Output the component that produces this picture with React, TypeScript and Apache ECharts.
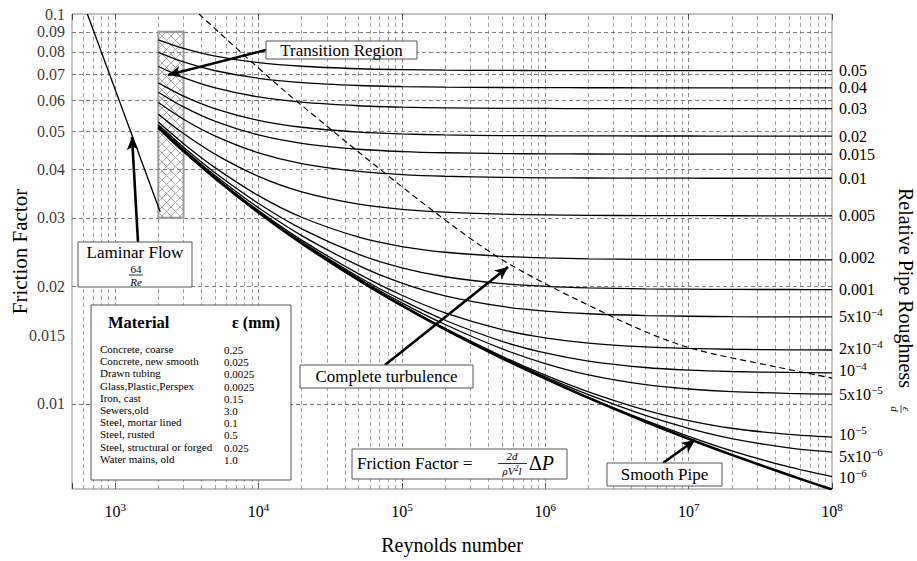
import { useEffect, useRef } from "react";
import * as echarts from "echarts";

const SERIF = '"Liberation Serif", "Times New Roman", serif';

// Reynolds numbers at which the friction curves are read
const reynolds = [2000, 3000, 5000, 1e4, 2e4, 5e4, 1e5, 2e5, 5e5, 1e6, 2e6, 5e6, 1e7, 2e7, 5e7, 1e8];

// right-hand labels (relative roughness)
const roughnessLabels = [
  "0.05", "0.04", "0.03", "0.02", "0.015", "0.01", "0.005", "0.002", "0.001",
  "5x10{sup|−4}", "2x10{sup|−4}", "10{sup|−4}", "5x10{sup|−5}", "10{sup|−5}", "5x10{sup|−6}", "10{sup|−6}",
];
const labelShiftY = [0, 0, 0, 0, 0, 0, 0, -2, 0, 0, -1, -2, 0, -3, 4, 1];

const f_0_05 = [0.08584, 0.08162, 0.078, 0.07505, 0.07344, 0.07238, 0.072, 0.07179, 0.07166, 0.07161, 0.07158, 0.07156, 0.07155, 0.07155, 0.07155, 0.07155];
const f_0_04 = [0.07972, 0.07532, 0.07152, 0.0684, 0.06669, 0.06556, 0.06515, 0.06493, 0.06479, 0.06473, 0.0647, 0.06468, 0.06467, 0.06467, 0.06467, 0.06467];
const f_0_03 = [0.07334, 0.0687, 0.06464, 0.06127, 0.0594, 0.05816, 0.0577, 0.05746, 0.0573, 0.05724, 0.05721, 0.05719, 0.05718, 0.05717, 0.05717, 0.05717];
const f_0_02 = [0.06658, 0.06159, 0.05714, 0.05336, 0.05123, 0.04979, 0.04926, 0.04897, 0.04878, 0.04872, 0.04868, 0.04865, 0.04865, 0.04864, 0.04864, 0.04864];
const f_0_015 = [0.06302, 0.05778, 0.05304, 0.04895, 0.04659, 0.04499, 0.04439, 0.04407, 0.04386, 0.04378, 0.04374, 0.04371, 0.0437, 0.04369, 0.04369, 0.04369];
const f_0_01 = [0.05929, 0.05373, 0.0486, 0.04404, 0.04135, 0.03947, 0.03875, 0.03836, 0.03811, 0.03801, 0.03796, 0.03793, 0.03792, 0.03791, 0.03791, 0.03791];
const f_0_005 = [0.05534, 0.04935, 0.04364, 0.03833, 0.03499, 0.03253, 0.03156, 0.03102, 0.03066, 0.03052, 0.03045, 0.0304, 0.03039, 0.03038, 0.03037, 0.03037];
const f_0_002 = [0.05283, 0.0465, 0.0403, 0.03422, 0.03011, 0.02677, 0.02533, 0.02449, 0.0239, 0.02368, 0.02356, 0.02348, 0.02345, 0.02344, 0.02343, 0.02342];
const f_0_001 = [0.05197, 0.04551, 0.0391, 0.03267, 0.02812, 0.02418, 0.02234, 0.02119, 0.02035, 0.02003, 0.01985, 0.01973, 0.01969, 0.01966, 0.01965, 0.01964];
const f_5e_4 = [0.05154, 0.045, 0.03848, 0.03184, 0.02702, 0.02262, 0.02041, 0.01893, 0.01778, 0.0173, 0.01703, 0.01685, 0.01678, 0.01674, 0.01672, 0.01671];
const f_2e_4 = [0.05127, 0.0447, 0.0381, 0.03133, 0.02631, 0.02155, 0.019, 0.01713, 0.01551, 0.01477, 0.01432, 0.014, 0.01388, 0.01381, 0.01376, 0.01375];
const f_1e_4 = [0.05118, 0.04459, 0.03798, 0.03115, 0.02606, 0.02116, 0.01845, 0.01639, 0.01447, 0.01351, 0.01288, 0.0124, 0.01221, 0.01211, 0.01204, 0.01201];
const f_5e_5 = [0.05114, 0.04454, 0.03791, 0.03106, 0.02594, 0.02097, 0.01816, 0.01598, 0.01384, 0.01269, 0.01187, 0.0112, 0.01092, 0.01075, 0.01064, 0.01059];
const f_1e_5 = [0.0511, 0.0445, 0.03786, 0.03099, 0.02584, 0.0208, 0.01792, 0.01562, 0.01325, 0.01185, 0.01074, 0.00964, 0.00906, 0.00866, 0.00835, 0.00822];
const f_5e_6 = [0.0511, 0.0445, 0.03785, 0.03098, 0.02583, 0.02078, 0.01789, 0.01558, 0.01317, 0.01173, 0.01056, 0.00934, 0.00866, 0.00815, 0.00771, 0.00752];
const f_1e_6 = [0.0511, 0.04449, 0.03785, 0.03098, 0.02582, 0.02076, 0.01787, 0.01554, 0.01311, 0.01163, 0.0104, 0.00907, 0.00826, 0.00758, 0.00689, 0.00651];
const f_smooth = [0.05109, 0.04449, 0.03785, 0.03097, 0.02581, 0.02076, 0.01786, 0.01553, 0.01309, 0.01161, 0.01036, 0.009, 0.00814, 0.0074, 0.00657, 0.00603];

const roughnessCurves = [f_0_05, f_0_04, f_0_03, f_0_02, f_0_015, f_0_01, f_0_005, f_0_002, f_0_001, f_5e_4, f_2e_4, f_1e_4, f_5e_5, f_1e_5, f_5e_6, f_1e_6];

// laminar flow line 64/Re
const laminarRe = [640, 2060];
const laminarF = [0.1, 0.0311];

// dashed boundary of complete turbulence
const turbRe = [3844, 19460, 392500, 2.968e6, 9.74e6, 4.133e7, 1e8];
const turbF = [0.1, 0.05877, 0.02481, 0.0167, 0.01399, 0.01243, 0.01165];

// transition region (Re range, f range)
const transitionRe = [2000, 3000];
const transitionF = [0.03, 0.09];

// axis tick labels and grid
const xTickExponents = [3, 4, 5, 6, 7, 8];
const yTickValues = [0.1, 0.09, 0.08, 0.07, 0.06, 0.05, 0.04, 0.03, 0.02, 0.015, 0.01];
const yTickLabels = ["0.1", "0.09", "0.08", "0.07", "0.06", "0.05", "0.04", "0.03", "0.02", "0.015", "0.01"];
const yMinorGrid = [0.085, 0.075, 0.065, 0.055, 0.045, 0.035, 0.028, 0.026, 0.024, 0.022, 0.019, 0.018, 0.017, 0.016, 0.014, 0.013, 0.012, 0.011, 0.009, 0.008, 0.007];
const xDecades = [100, 1e3, 1e4, 1e5, 1e6, 1e7];
const xMultipliers = [2, 3, 4, 5, 6, 7, 8, 9];
const X_MIN = 500;
const X_MAX = 1e8;
const Y_MIN = 0.00605;
const Y_MAX = 0.1;

// material table
const materials = [
  "Concrete, coarse", "Concrete, new smooth", "Drawn tubing", "Glass,Plastic,Perspex", "Iron, cast",
  "Sewers,old", "Steel, mortar lined", "Steel, rusted", "Steel, structural or forged", "Water mains, old",
];
const epsilonMm = ["0.25", "0.025", "0.0025", "0.0025", "0.15", "3.0", "0.1", "0.5", "0.025", "1.0"];

// annotation arrows: [tailRe, tailF, tipRe, tipF]
const arrows = [
  [11275, 0.08087, 2336, 0.06977],
  [1443, 0.02602, 1311, 0.04836],
  [76230, 0.01258, 549600, 0.02244],
  [6.624e6, 0.007055, 1.108e7, 0.008079],
];

const supRich = {
  sup: { fontSize: 11, fontFamily: SERIF, color: "#000", padding: [0, 0, 9, 0] },
};

function makeHatch(): HTMLCanvasElement {
  const c = document.createElement("canvas");
  c.width = 9;
  c.height = 9;
  const ctx = c.getContext("2d")!;
  ctx.strokeStyle = "#8a8a8a";
  ctx.lineWidth = 0.7;
  ctx.beginPath();
  ctx.moveTo(0, 0);
  ctx.lineTo(9, 9);
  ctx.moveTo(9, 0);
  ctx.lineTo(0, 9);
  ctx.stroke();
  return c;
}

function buildOption(): any {
  const curvePts = (vals: number[]) => reynolds.map((r, i) => [r, vals[i]]);

  const gridLines: any[] = [];
  xDecades.forEach((d) => {
    xMultipliers.forEach((m) => {
      const v = d * m;
      if (v > X_MIN && v < X_MAX) {
        gridLines.push({ xAxis: v, lineStyle: { color: "#8c8c8c", width: 0.8, type: [4, 3] } });
      }
    });
    if (d > X_MIN) gridLines.push({ xAxis: d, lineStyle: { color: "#6a6a6a", width: 0.8, type: [4, 3] } });
  });
  yMinorGrid.forEach((v) => {
    gridLines.push({ yAxis: v, lineStyle: { color: "#c2c2c2", width: 0.8, type: [4, 3] } });
  });
  yTickValues.forEach((v) => {
    if (v < Y_MAX) gridLines.push({ yAxis: v, lineStyle: { color: "#6a6a6a", width: 0.8, type: [4, 3] } });
  });

  const series: any[] = [];
  series.push({
    type: "line",
    name: "grid",
    data: [[1e4, 0.05]],
    symbol: "none",
    lineStyle: { opacity: 0 },
    silent: true,
    z: 1,
    markLine: {
      silent: true,
      symbol: "none",
      z: 1,
      animation: false,
      label: { show: false },
      data: gridLines,
    },
  });

  // y tick labels placed on the left edge through the axes
  series.push({
    type: "scatter",
    name: "yticks",
    data: yTickValues.map((v) => [X_MIN, v]),
    symbolSize: 0,
    silent: true,
    clip: false,
    z: 5,
    label: {
      show: true,
      position: "left",
      distance: 7,
      formatter: (p: any) => yTickLabels[p.dataIndex],
      fontFamily: SERIF,
      fontSize: 16,
      color: "#000",
    },
  });

  roughnessCurves.forEach((vals, i) => {
    series.push({
      type: "line",
      name: "r" + i,
      data: curvePts(vals),
      symbol: "none",
      smooth: 0.3,
      silent: true,
      z: 3,
      lineStyle: { color: "#000", width: 1.3 },
      endLabel: {
        show: true,
        distance: 7,
        offset: [0, labelShiftY[i]],
        formatter: () => roughnessLabels[i],
        fontFamily: SERIF,
        fontSize: 16,
        color: "#000",
        rich: supRich,
      },
    });
  });

  series.push({
    type: "line",
    name: "smooth",
    data: curvePts(f_smooth),
    symbol: "none",
    smooth: 0.3,
    silent: true,
    z: 3,
    lineStyle: { color: "#000", width: 2.6 },
  });

  series.push({
    type: "line",
    name: "laminar",
    data: laminarRe.map((r, i) => [r, laminarF[i]]),
    symbol: "none",
    silent: true,
    z: 3,
    lineStyle: { color: "#000", width: 1.3 },
    markArea: {
      silent: true,
      z: 2,
      itemStyle: {
        color: { image: makeHatch(), repeat: "repeat" },
        borderColor: "#999",
        borderWidth: 2,
      },
      data: [[{ coord: [transitionRe[0], transitionF[0]] }, { coord: [transitionRe[1], transitionF[1]] }]],
    },
  });

  series.push({
    type: "line",
    name: "turbulence",
    data: turbRe.map((r, i) => [r, turbF[i]]),
    symbol: "none",
    smooth: 0.3,
    silent: true,
    z: 3,
    lineStyle: { color: "#000", width: 1.2, type: [6, 4] },
  });

  series.push({
    type: "line",
    name: "arrows",
    data: [[1e4, 0.05]],
    symbol: "none",
    lineStyle: { opacity: 0 },
    silent: true,
    z: 4,
    markLine: {
      silent: true,
      z: 6,
      animation: false,
      symbol: ["none", "arrow"],
      symbolSize: [9, 13],
      label: { show: false },
      lineStyle: { color: "#000", width: 2.6, type: "solid" },
      data: arrows.map((a) => [{ coord: [a[0], a[1]] }, { coord: [a[2], a[3]] }]),
    },
  });

  const box = (x: number, y: number, w: number, h: number) => ({
    type: "rect",
    shape: { x, y, width: w, height: h },
    style: { fill: "#fff", stroke: "#555", lineWidth: 1 },
    z: 100,
  });
  const txt = (text: string, x: number, y: number, size: number, extra: any = {}) => ({
    type: "text",
    x,
    y,
    z: 101,
    style: {
      text,
      fill: "#000",
      fontSize: size,
      fontFamily: SERIF,
      align: extra.align || "center",
      verticalAlign: "middle",
      textAlign: extra.align || "center",
      textVerticalAlign: "middle",
      fontWeight: extra.fontWeight || "normal",
      fontStyle: extra.fontStyle || "normal",
      rich: extra.rich,
    },
  });
  const hline = (x1: number, x2: number, y: number) => ({
    type: "line",
    z: 101,
    shape: { x1, y1: y, x2, y2: y },
    style: { stroke: "#000", lineWidth: 0.8 },
  });

  const graphic: any[] = [
    box(266, 41, 151, 18),
    txt("Transition Region", 341.5, 50.5, 17),
    box(78, 242, 114, 45),
    txt("Laminar Flow", 135, 252.5, 17),
    txt("64", 136, 268.5, 11),
    hline(129, 143, 275),
    txt("Re", 136, 281.5, 11, { fontStyle: "italic" }),
    box(300, 365, 173, 23),
    txt("Complete turbulence", 386.5, 376.5, 17),
    box(352, 449, 215, 30),
    txt("Friction Factor =", 357, 463, 17, { align: "left" }),
    txt("2d", 512, 456, 11, { fontStyle: "italic" }),
    hline(498, 527, 463.5),
    txt("ρV{s|2}l", 512, 471, 11, { fontStyle: "italic", rich: { s: { fontSize: 8, fontStyle: "italic", fontFamily: SERIF, padding: [0, 0, 6, 0] } } }),
    txt("{a|Δ}{b|P}", 529, 463, 20, {
      align: "left",
      rich: { a: { fontSize: 20, fontFamily: SERIF }, b: { fontSize: 20, fontFamily: SERIF, fontStyle: "italic" } },
    }),
    box(607, 463, 115, 23),
    txt("Smooth Pipe", 664.5, 474.5, 17),
    box(91, 305, 200, 175),
    txt("Material", 108, 322, 16.5, { align: "left", fontWeight: "bold" }),
    txt("ε (mm)", 232, 322, 16, { align: "left", fontWeight: "bold" }),
    ...materials.map((m, i) => txt(m, 100, 349 + i * 12.2, 11, { align: "left" })),
    ...epsilonMm.map((e, i) => txt(e, 224, 350 + i * 12.2, 11, { align: "left" })),
    {
      type: "text",
      x: 906,
      y: 288,
      rotation: -Math.PI / 2,
      z: 101,
      style: {
        text: "Relative Pipe Roughness",
        fill: "#000",
        fontSize: 20,
        fontFamily: SERIF,
        align: "center",
        verticalAlign: "middle",
        textAlign: "center",
        textVerticalAlign: "middle",
      },
    },
    {
      type: "group",
      x: 901,
      y: 409,
      rotation: -Math.PI / 2,
      z: 101,
      children: [
        { type: "text", x: 0, y: -6, style: { text: "ε", fontSize: 11, fontFamily: SERIF, fontStyle: "italic", fill: "#000", align: "center", verticalAlign: "middle", textAlign: "center", textVerticalAlign: "middle" } },
        { type: "line", shape: { x1: -4, y1: 0, x2: 4, y2: 0 }, style: { stroke: "#000", lineWidth: 0.7 } },
        { type: "text", x: 0, y: 6, style: { text: "d", fontSize: 11, fontFamily: SERIF, fontStyle: "italic", fill: "#000", align: "center", verticalAlign: "middle", textAlign: "center", textVerticalAlign: "middle" } },
      ],
    },
  ];

  const xLabelFormatter = (v: number) => {
    const e = Math.round(Math.log10(v));
    if (xTickExponents.includes(e) && Math.abs(v - Math.pow(10, e)) < 1e-6 * v) return "10{sup|" + e + "}";
    return "";
  };

  return {
    animation: false,
    backgroundColor: "#fff",
    grid: {
      left: 72,
      right: 85,
      top: 14,
      bottom: 72,
      containLabel: false,
      outerBoundsMode: "none",
      show: true,
      borderColor: "#888",
      borderWidth: 1,
      backgroundColor: "transparent",
    },
    xAxis: [
      {
        type: "log",
        logBase: 10,
        min: X_MIN,
        max: X_MAX,
        axisLine: { show: false },
        splitLine: { show: false },
        axisTick: { show: true, inside: true, length: 6, lineStyle: { color: "#444" } },
        axisLabel: { formatter: xLabelFormatter, fontFamily: SERIF, fontSize: 16, color: "#000", margin: 12, rich: supRich },
        name: "Reynolds number",
        nameLocation: "middle",
        nameGap: 46,
        nameTextStyle: { fontFamily: SERIF, fontSize: 20, color: "#000" },
      },
      {
        type: "log",
        logBase: 10,
        min: X_MIN,
        max: X_MAX,
        position: "top",
        axisLine: { show: false },
        splitLine: { show: false },
        axisTick: { show: true, inside: true, length: 6, lineStyle: { color: "#444" } },
        axisLabel: { show: false },
      },
    ],
    yAxis: [
      {
        type: "log",
        logBase: 10,
        min: Y_MIN,
        max: Y_MAX,
        axisLine: { show: false },
        splitLine: { show: false },
        axisTick: { show: false },
        axisLabel: { show: false },
        name: "Friction Factor",
        nameLocation: "middle",
        nameRotate: 90,
        nameGap: 42,
        nameTextStyle: { fontFamily: SERIF, fontSize: 21, color: "#000" },
      },
    ],
    series,
    graphic,
  };
}

export default function App() {
  const ref = useRef<HTMLDivElement>(null);
  useEffect(() => {
    if (!ref.current) return;
    const chart = echarts.init(ref.current, undefined, { renderer: "svg" });
    chart.setOption(buildOption());
    return () => chart.dispose();
  }, []);
  return <div ref={ref} style={{ position: "fixed", left: 0, top: 0, width: 917, height: 561, background: "#fff" }} />;
}
